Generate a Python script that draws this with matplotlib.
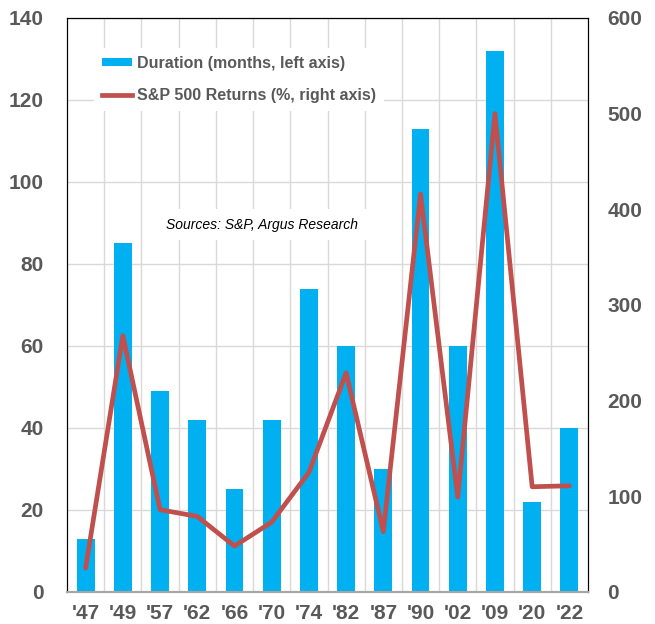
import matplotlib.pyplot as plt
from matplotlib.patches import Patch
from matplotlib.lines import Line2D

years = ["'47", "'49", "'57", "'62", "'66", "'70", "'74", "'82", "'87", "'90", "'02", "'09", "'20", "'22"]
duration = [13, 85, 49, 42, 25, 42, 74, 60, 30, 113, 60, 132, 22, 40]
returns = [25, 268, 86, 79, 48, 73, 125, 229, 63, 416, 99, 500, 110, 111]

plt.rcParams['font.family'] = ['Liberation Sans', 'DejaVu Sans']
bar_color = '#00B0F0'
line_color = '#C0504D'
text_color = '#595959'

fig = plt.figure(figsize=(6.55, 6.24), dpi=100)
ax = fig.add_axes([0.1023, 0.0513, 0.7954, 0.9199])
ax2 = ax.twinx()

x = list(range(len(years)))
ax.bar(x, duration, width=0.48, color=bar_color, zorder=2)
ax2.plot(x, returns, color=line_color, lw=3.4, solid_capstyle='round', zorder=3)

ax.set_xlim(-0.5, len(years) - 0.5)
ax.set_ylim(0, 140)
ax2.set_ylim(0, 600)
ax.set_yticks(range(0, 141, 20))
ax2.set_yticks(range(0, 601, 100))
ax.set_xticks(x)
ax.set_xticklabels(years)

# grid: horizontal at left ticks, vertical between categories
for v in range(20, 141, 20):
    ax.axhline(v, color='#d9d9d9', lw=1, zorder=0)
for i in range(len(years) - 1):
    ax.axvline(i + 0.5, color='#d9d9d9', lw=1, zorder=0)

for a in (ax, ax2):
    a.tick_params(length=0, labelsize=15, labelcolor=text_color)
    for lab in a.get_yticklabels() + a.get_xticklabels():
        lab.set_fontweight('bold')
ax.tick_params(axis='y', pad=17)
ax2.tick_params(axis='y', pad=14)
ax.tick_params(axis='x', pad=9)

for a in (ax, ax2):
    a.spines['left'].set_color('black')
    a.spines['right'].set_color('black')
    a.spines['top'].set_color('black')
    a.spines['bottom'].set_color('#a6a6a6')
    a.spines['bottom'].set_linewidth(1.5)

handles = [Patch(facecolor=bar_color, edgecolor='none'),
           Line2D([0], [0], color=line_color, lw=3.4)]
labels = ['Duration (months, left axis)', 'S&P 500 Returns (%, right axis)']
leg = ax2.legend(handles, labels, loc='upper left', bbox_to_anchor=(0.052, 0.948),
                 frameon=True, fancybox=False, framealpha=1, edgecolor='none',
                 handlelength=1.9, handleheight=0.4, handletextpad=0.3,
                 labelspacing=1.05, borderpad=0.5, borderaxespad=0,
                 prop={'weight': 'bold', 'size': 11.5})
for t in leg.get_texts():
    t.set_color(text_color)
leg.set_zorder(10)

ax2.text(0.375, 0.64, 'Sources: S&P, Argus Research', transform=ax.transAxes,
         ha='center', va='center', fontsize=10, style='italic', color='black',
         bbox=dict(facecolor='white', edgecolor='none', pad=6), zorder=1)

fig.savefig('out.png', dpi=100)
